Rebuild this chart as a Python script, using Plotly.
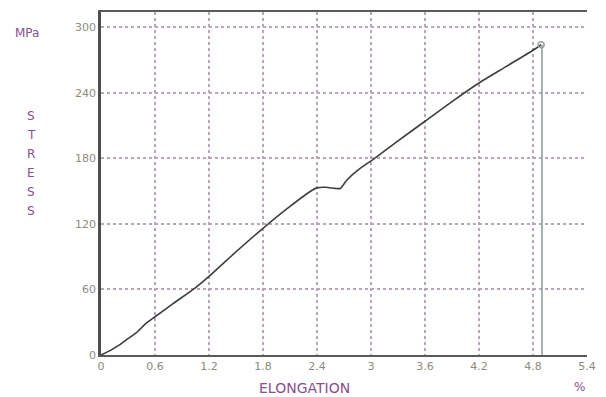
import plotly.graph_objects as go

# Tensile test record: elongation (%) vs stress (MPa)
elongation = [0, 0.1, 0.2, 0.3, 0.4, 0.5, 0.6, 0.8, 1.04, 1.2, 1.5, 1.8, 2.1,
              2.35, 2.4, 2.5, 2.6, 2.66, 2.73, 2.85, 3.04, 3.3, 3.6, 3.9,
              4.2, 4.5, 4.8, 4.89]
stress = [0, 4, 9, 15, 21, 29, 35, 47, 61, 72, 94.5, 116, 136,
          151, 153, 153.5, 152.5, 152.5, 160, 169, 180, 196, 214, 232,
          249, 264, 279, 284]

# Fracture: stress drops to zero at break
break_elong = [4.9, 4.9]
break_stress = [284, 0]

x_ticks = [0, 0.6, 1.2, 1.8, 2.4, 3, 3.6, 4.2, 4.8, 5.4]
x_tick_text = ["0", "0.6", "1.2", "1.8", "2.4", "3", "3.6", "4.2", "4.8", "5.4"]
y_ticks = [0, 60, 120, 180, 240, 300]

purple = "#8a4f8c"
tick_col = "#8c8c7e"
grid_col = "#b8a6b8"
font = "DejaVu Sans"

W, H = 606, 397
ML, MR, MT, MB = 101, 11, 10, 42

fig = go.Figure()
fig.add_trace(go.Scatter(x=elongation, y=stress, mode="lines",
                         line=dict(color="#3e3e3e", width=1.6,
                                   shape="spline", smoothing=0.6),
                         hoverinfo="skip", showlegend=False))
fig.add_trace(go.Scatter(x=break_elong, y=break_stress, mode="lines",
                         line=dict(color="#8fa0a0", width=1.6),
                         hoverinfo="skip", showlegend=False))
fig.add_trace(go.Scatter(x=[elongation[-1]], y=[stress[-1]], mode="markers",
                         marker=dict(symbol="circle-open", size=6,
                                     color="#9aa0a0", line=dict(width=1.5)),
                         hoverinfo="skip", showlegend=False))

fig.update_layout(
    width=W, height=H,
    margin=dict(l=ML, r=MR, t=MT, b=MB),
    paper_bgcolor="white", plot_bgcolor="white",
    font=dict(family=font, size=11, color=tick_col),
    xaxis=dict(range=[0, 5.4], tickvals=x_ticks, ticktext=x_tick_text,
               showgrid=True, gridcolor=grid_col, griddash="dot", gridwidth=1.5,
               zeroline=False, showline=True, linecolor="#5a5a5a", linewidth=2,
               mirror=True, ticks="", tickfont=dict(size=11, color=tick_col)),
    yaxis=dict(range=[0, 314], tickvals=y_ticks,
               showgrid=True, gridcolor=grid_col, griddash="dot", gridwidth=1.5,
               zeroline=False, showline=True, linecolor="#4e4e4e", linewidth=2.5,
               ticks="", tickfont=dict(size=11, color=tick_col)),
)

# Axis captions, positioned in figure pixels
labels = [
    ("ELONGATION", 308, 388, 14),
    ("%", 587, 387, 12),
    ("MPa", 26, 31, 12),
]
for i, ch in enumerate("STRESS"):
    labels.append((ch, 30, 115 + i * 19, 12))

pw, ph = W - ML - MR, H - MT - MB
for text, px, py, size in labels:
    fig.add_annotation(text=text, xref="paper", yref="paper",
                       x=(px - ML) / pw, y=1 - (py - MT) / ph,
                       showarrow=False, xanchor="center", yanchor="middle",
                       font=dict(family=font, size=size, color=purple))

fig.write_html("out.html")
